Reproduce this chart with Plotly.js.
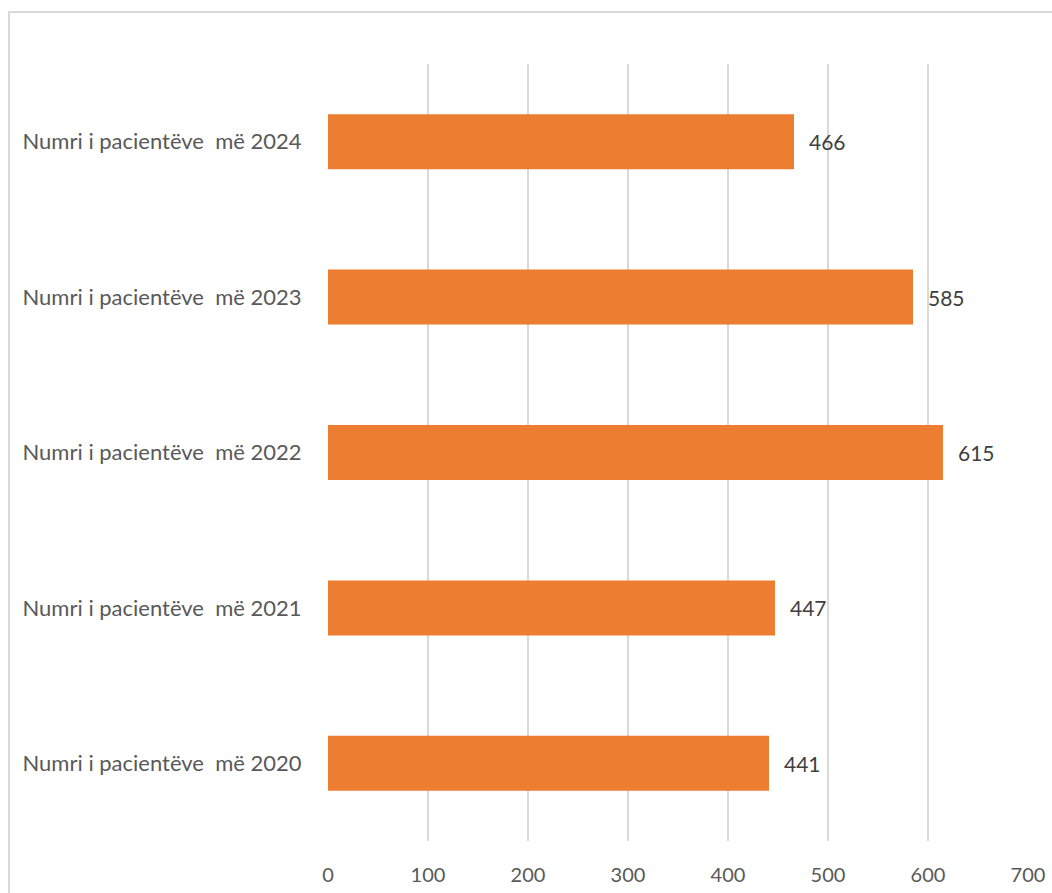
<!DOCTYPE html>
<html>
<head>
<meta charset="utf-8">
<script src="https://cdn.plot.ly/plotly-3.0.1.min.js"></script>
<style>
html,body{margin:0;padding:0;background:#fff;}
#wrap{position:relative;width:1052px;height:893px;}
#chart{width:1052px;height:893px;}
#frame{position:absolute;left:8px;top:11px;width:1100px;height:1000px;border-left:2px solid #d9d9d9;border-top:2px solid #d9d9d9;pointer-events:none;}
</style>
</head>
<body>
<div id="wrap"><div id="chart"></div><div id="frame"></div></div>
<script>
var categories = ["Numri i pacientëve\u00a0 më 2020","Numri i pacientëve\u00a0 më 2021","Numri i pacientëve\u00a0 më 2022","Numri i pacientëve\u00a0 më 2023","Numri i pacientëve\u00a0 më 2024"];
var values = [441, 447, 615, 585, 466];
var tickValues = [0,100,200,300,400,500,600,700];

var font = "Lato, 'Open Sans', sans-serif";
var trace = {
  type: 'bar', orientation: 'h',
  x: values, y: categories,
  marker: {color: '#ed7d31'},
  width: 0.354,
  hoverinfo: 'x'
};
var annotations = values.map(function(v, i){
  return {x: v, y: categories[i], xref: 'x', yref: 'y', text: String(v), showarrow: false,
    xanchor: 'left', xshift: 13, font: {family: font, size: 21, color: '#404040'}};
});
var layout = {
  width: 1052, height: 893,
  margin: {l: 328, r: 24, t: 64, b: 52, pad: 0},
  paper_bgcolor: '#fff', plot_bgcolor: '#fff',
  showlegend: false,
  font: {family: font, size: 21, color: '#595959'},
  xaxis: {range: [0, 700], tickvals: tickValues, ticktext: tickValues.map(String),
    showgrid: true, gridcolor: '#d9d9d9', gridwidth: 1.5, zeroline: false, showline: false,
    ticks: 'outside', ticklen: 16, tickcolor: 'rgba(0,0,0,0)', fixedrange: true,
    tickfont: {family: font, size: 20, color: '#595959'}},
  yaxis: {type: 'category', categoryorder: 'array', categoryarray: categories, range: [-0.5, 4.5],
    showgrid: false, zeroline: false, showline: false, ticks: 'outside', ticklen: 21, tickcolor: 'rgba(0,0,0,0)',
    tickfont: {family: font, size: 22, color: '#595959'}, fixedrange: true},
  annotations: annotations
};
Plotly.newPlot('chart', [trace], layout, {displayModeBar: false, staticPlot: true});
</script>
</body>
</html>
